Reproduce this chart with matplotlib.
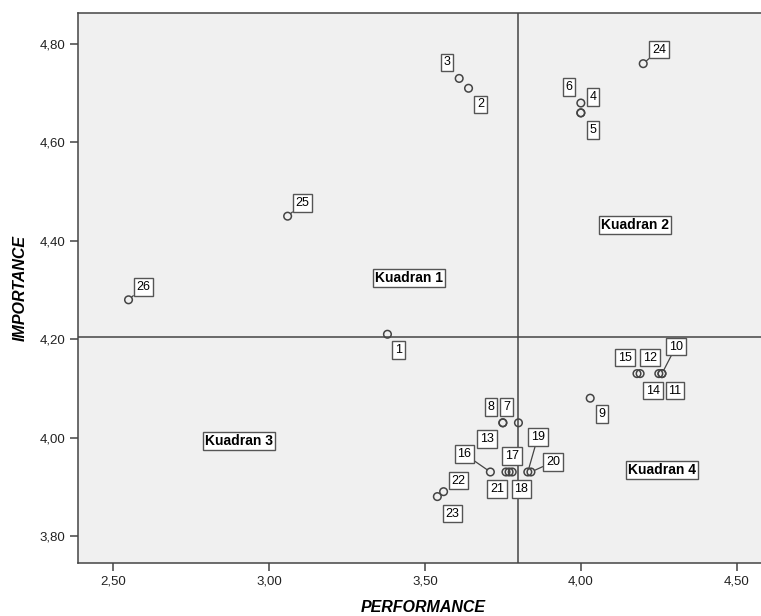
#!/usr/bin/env python3

import matplotlib.pyplot as plt
from matplotlib.ticker import FuncFormatter

# data
ids = [1, 2, 3, 4, 5, 6, 7, 8, 9, 10, 11, 12, 13,
       14, 15, 16, 17, 18, 19, 20, 21, 22, 23, 24, 25, 26]
performance = [3.38, 3.64, 3.61, 4.00, 4.00, 4.00, 3.80, 3.75, 4.03, 4.26, 4.26, 4.19, 3.75,
               4.25, 4.18, 3.71, 3.77, 3.78, 3.83, 3.84, 3.76, 3.56, 3.54, 4.20, 3.06, 2.55]
importance = [4.21, 4.71, 4.73, 4.68, 4.66, 4.66, 4.03, 4.03, 4.08, 4.13, 4.13, 4.13, 4.03,
              4.13, 4.13, 3.93, 3.93, 3.93, 3.93, 3.93, 3.93, 3.89, 3.88, 4.76, 4.45, 4.28]

mean_perf = 3.80
mean_imp = 4.205

quadrants = ['Kuadran 1', 'Kuadran 2', 'Kuadran 3', 'Kuadran 4']
quad_x = [3.45, 4.175, 2.905, 4.26]
quad_y = [4.325, 4.432, 3.993, 3.934]

# label offsets in pixels (dx, dy), and which labels get a leader line
offsets = {1: (11, -16), 2: (12, -16), 3: (-12, 16), 4: (12, 6), 5: (12, -17),
           6: (-12, 26), 7: (-12, 16), 8: (-12, 16), 9: (12, -16), 10: (14, 27),
           11: (13, -17), 12: (10, 16), 13: (-16, -16), 14: (-6, -17), 15: (-12, 16),
           16: (-26, 18), 17: (3, 16), 18: (9, -17), 19: (10, 35), 20: (22, 10),
           21: (-9, -17), 22: (15, 11), 23: (15, -17), 24: (16, 14), 25: (15, 13),
           26: (15, 13)}
leaders = {10, 16, 19, 20, 24, 25, 26}

GREY = '#444444'
plt.rcParams['font.family'] = ['Liberation Sans', 'DejaVu Sans']

fig = plt.figure(figsize=(7.61, 6.16), dpi=100)
ax = fig.add_axes([78 / 761, 53 / 616, 690 / 761, 550 / 616])
ax.set_facecolor('#f0f0f0')

ax.axvline(mean_perf, color=GREY, lw=1.1, zorder=1)
ax.axhline(mean_imp, color=GREY, lw=1.1, zorder=1)

ax.scatter(performance, importance, s=30, facecolors='none', edgecolors='#444444',
           linewidths=1.1, zorder=3)

box = dict(boxstyle='square,pad=0.22', fc='white', ec='#555555', lw=1.0)
for i, x, y in zip(ids, performance, importance):
    dx, dy = offsets[i]
    arrow = dict(arrowstyle='-', color='#444444', lw=0.9, shrinkA=0, shrinkB=3) if i in leaders else None
    ax.annotate(str(i), (x, y), xytext=(dx, dy), textcoords='offset pixels',
                ha='center', va='center', fontsize=9, bbox=box,
                arrowprops=arrow, zorder=4)

qbox = dict(boxstyle='square,pad=0.15', fc='white', ec='#555555', lw=1.0)
for t, x, y in zip(quadrants, quad_x, quad_y):
    ax.text(x, y, t, ha='center', va='center', fontsize=10, fontweight='bold',
            bbox=qbox, zorder=4)

ax.set_xlim(2.388, 4.6)
ax.set_ylim(3.745, 4.863)
ax.set_xticks([2.5, 3.0, 3.5, 4.0, 4.5])
ax.set_yticks([3.8, 4.0, 4.2, 4.4, 4.6, 4.8])
fmt = FuncFormatter(lambda v, p: f'{v:.2f}'.replace('.', ','))
ax.xaxis.set_major_formatter(fmt)
ax.yaxis.set_major_formatter(fmt)
ax.tick_params(direction='out', length=6, width=1.1, color=GREY, labelsize=9.5,
               labelcolor='#222222', pad=3)

for s in ax.spines.values():
    s.set_color(GREY)
    s.set_linewidth(1.1)
ax.spines['right'].set_visible(False)

ax.set_xlabel('PERFORMANCE', fontsize=11.5, fontweight='bold', fontstyle='italic', labelpad=9)
ax.set_ylabel('IMPORTANCE', fontsize=11.5, fontweight='bold', fontstyle='italic', labelpad=9)

plt.savefig('out.png', dpi=100)
